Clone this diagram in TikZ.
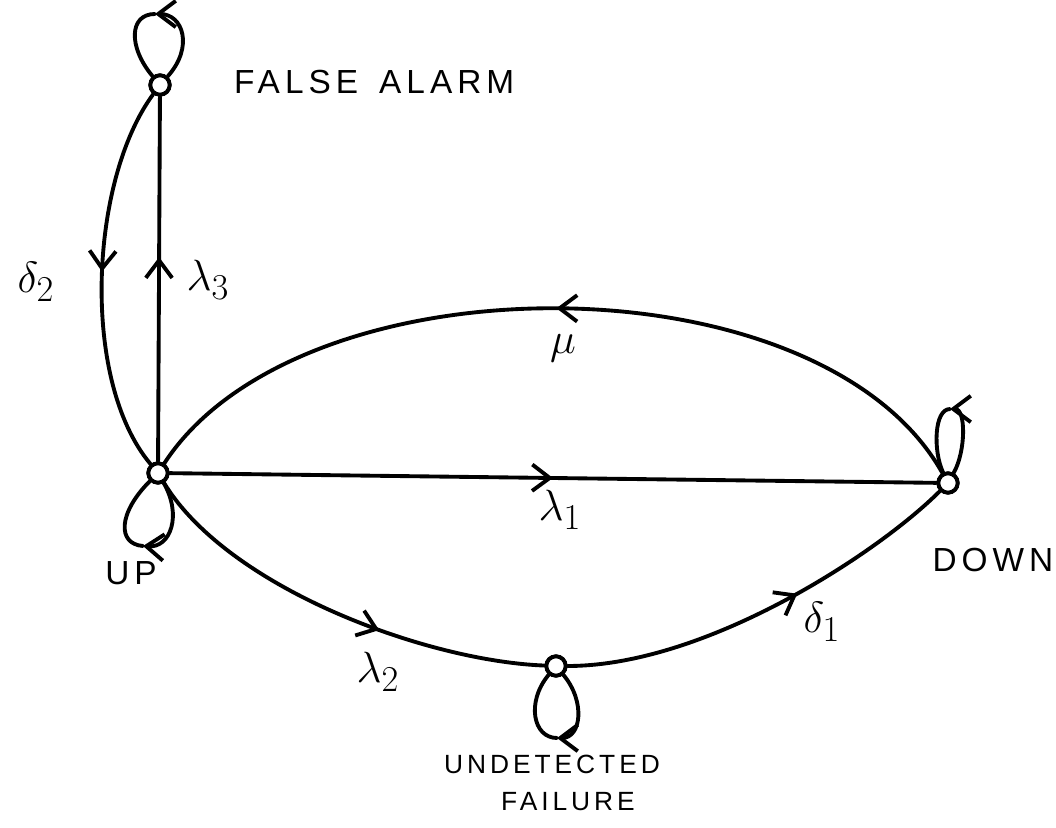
\documentclass[tikz,border=0pt]{standalone}
\usepackage{fontspec}
\newfontfamily\hand[LetterSpace=15]{Liberation Sans}
\usetikzlibrary{arrows.meta,decorations.markings}
\tikzset{
  edge/.style={line width=2.2pt, line cap=round},
  tipped/.style={edge, -{Straight Barb[length=10pt,width=15pt]}},
  midarrow/.style={postaction={decorate}, decoration={markings,
     mark=at position #1 with {\arrow[line width=2.2pt]{Straight Barb[length=10pt,width=15pt]}}}},
  state/.style={circle, draw, line width=2.2pt, fill=white, minimum size=11pt, inner sep=0pt},
  rate/.style={font=\fontsize{30}{34}\selectfont},
  lbl/.style={font=\hand\fontsize{19}{22}\selectfont},
  slbl/.style={font=\hand\fontsize{15}{18}\selectfont}
}
\begin{document}
\begin{tikzpicture}[x=0.02cm,y=-0.02cm]
\useasboundingbox (0,0) rectangle (1056,828);
\node[state] (UP) at (158,473) {};
\node[state] (FA) at (160,85) {};
\node[state] (DN) at (948,483) {};
\node[state] (UF) at (556,666) {};
\coordinate (FAt) at (155,14);
\coordinate (UPb) at (143,546);
\coordinate (DNt) at (950,409);
\coordinate (UFb) at (557,738);
% edges
\draw[edge, midarrow=0.56] (UP) -- (FA);
\draw[edge, midarrow=0.48] (FA) .. controls +(-70,95) and +(-78,-93) .. (UP);
\draw[edge, midarrow=0.5] (UP) -- (DN);
\draw[edge, midarrow=0.5] (DN) .. controls +(-128,-228) and +(142,-218) .. (UP);
\draw[edge, midarrow=0.61] (UP) .. controls +(70,115) and +(-130,-5) .. (UF);
\draw[edge, midarrow=0.58] (UF) .. controls +(150,0) and +(-70,70) .. (DN);
% self loops (two halves each, arrowhead at the far point)
\draw[tipped] (FA) .. controls +(34,-38) and +(28,0) .. (FAt);
\draw[edge] (FAt) .. controls +(-26,0) and +(-32,-38) .. (FA);
\draw[tipped] (UP) .. controls +(24,42) and +(28,2) .. (UPb);
\draw[edge] (UPb) .. controls +(-26,-2) and +(-40,40) .. (UP);
\draw[tipped] (DN) .. controls +(18,-32) and +(16,0) .. (DNt);
\draw[edge] (DNt) .. controls +(-16,0) and +(-15,-32) .. (DN);
\draw[tipped] (UF) .. controls +(30,36) and +(24,0) .. (UFb);
\draw[edge] (UFb) .. controls +(-24,0) and +(-30,36) .. (UF);
% redraw states on top
\foreach \n in {UP,FA,DN,UF} \node[state] at (\n) {};
% rate labels
\node[rate] (d2) at (36,282) {$\delta_2$};
\node[rate] (l3) at (208,280) {$\lambda_3$};
\node[rate] (mu) at (563,348) {$\mu$};
\node[rate] (l1) at (560,510) {$\lambda_1$};
\node[rate] (l2) at (378,672) {$\lambda_2$};
\node[rate] (d1) at (822,622) {$\delta_1$};
% state labels
\node[lbl, anchor=west] (tfa) at (228,82) {FALSE\hspace{12pt}ALARM};
\node[lbl] (tup) at (131,573) {UP};
\node[lbl] (tdn) at (993,560) {DOWN};
\node[slbl] (tuf1) at (552,764) {UNDETECTED};
\node[slbl] (tuf2) at (568,802) {FAILURE};
\end{tikzpicture}
\end{document}
